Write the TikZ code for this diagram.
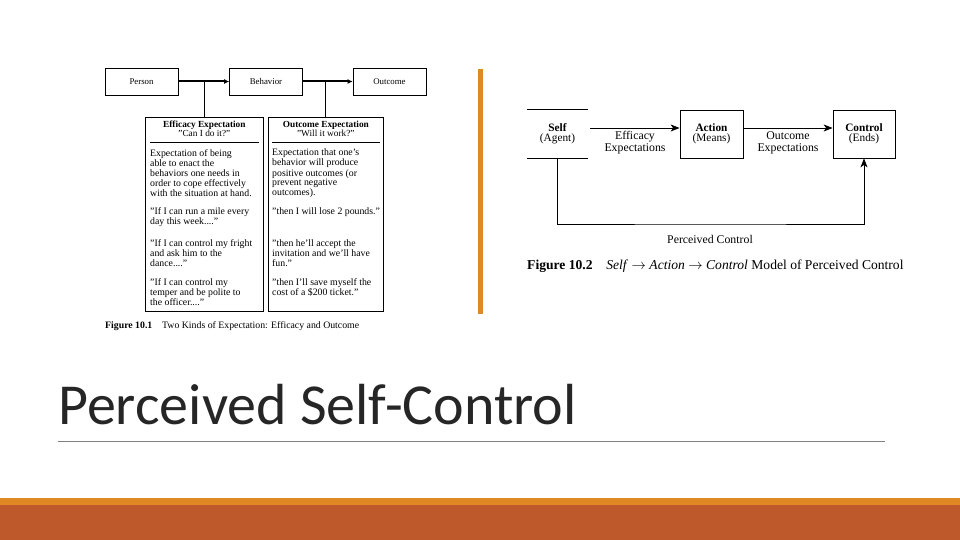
\documentclass[tikz,border=0pt]{standalone}
\usepackage{fontspec}
\setmainfont{Liberation Serif}
\newfontfamily\titlefont{Carlito}
\usetikzlibrary{arrows.meta, positioning}
\definecolor{accent}{RGB}{224,136,36}
\definecolor{banner}{RGB}{190,89,44}

\begin{document}
\begin{tikzpicture}[
  x=1pt, y=-1pt,
  font=\fontsize{9.8}{10}\selectfont,
  blk/.style={rectangle, draw=black, line width=0.7pt, minimum width=73pt,
              minimum height=27pt, inner sep=0pt, font=\fontsize{8.8}{9}\selectfont},
  col/.style={rectangle, draw=black, line width=0.7pt, minimum height=194pt,
              anchor=north west, inner sep=0pt},
  hd/.style={align=center, inner sep=0pt, anchor=north, font=\fontsize{9.3}{8.5}\selectfont},
  txt/.style={align=left, anchor=north west, inner sep=0pt, font=\fontsize{9.8}{10}\selectfont},
  rblk/.style={rectangle, draw=black, line width=0.8pt, minimum width=62pt,
               minimum height=48pt, inner sep=0pt, align=center,
               font=\fontsize{11.3}{10}\selectfont},
  flow/.style={-{Latex[length=5pt, width=5pt]}, line width=2pt},
  fb/.style={-{Stealth[length=9pt, width=7pt, inset=2.5pt]}, line width=0.9pt},
  lbl/.style={align=center, inner sep=0pt, font=\fontsize{11.8}{12}\selectfont}
]
\useasboundingbox (0,0) rectangle (960,540);

% left figure: two kinds of expectation
\node[blk] (person) at (141.5,81.5) {Person};
\node[blk] (behav) at (266,81.5) {Behavior};
\node[blk] (outc) at (389.5,81.5) {Outcome};
\draw[flow] (person) -- (behav);
\draw[flow] (behav) -- (outc);

\node[col, minimum width=118pt] (effbox) at (145,117) {};
\node[col, minimum width=115pt] (resbox) at (268,117) {};
\draw[line width=0.8pt] (effbox.north) -- (effbox.north |- person.east);
\draw[line width=0.8pt] (resbox.north) -- (resbox.north |- behav.east);

\node[hd] (effhd) at ([yshift=-4pt]effbox.north) {\textbf{Efficacy Expectation}\\"Can I do it?"};
\node[hd] (reshd) at ([yshift=-4pt]resbox.north) {\textbf{Outcome Expectation}\\"Will it work?"};
\draw[line width=0.7pt] ([xshift=5pt, yshift=-25pt]effbox.north west) -- ([xshift=-5pt, yshift=-25pt]effbox.north east);
\draw[line width=0.7pt] ([xshift=4pt, yshift=-25pt]resbox.north west) -- ([xshift=-4pt, yshift=-25pt]resbox.north east);

\node[txt] (eff1) at (150,149) {Expectation of being\\able to enact the\\behaviors one needs in\\order to cope effectively\\with the situation at hand.};
\node[txt] (eff2) at (150,207) {"If I can run a mile every\\day this week...."};
\node[txt] (eff3) at (150,239) {"If I can control my fright\\and ask him to the\\dance...."};
\node[txt] (eff4) at (150,278) {"If I can control my\\temper and be polite to\\the officer...."};

\node[txt] (res1) at (272,149) {Expectation that one's\\behavior will produce\\positive outcomes (or\\prevent negative\\outcomes).};
\node[txt] (res2) at (272,207) {"then I will lose 2 pounds."};
\node[txt] (res3) at (272,239) {"then he'll accept the\\invitation and we'll have\\fun."};
\node[txt] (res4) at (272,278) {"then I'll save myself the\\cost of a \$200 ticket."};

\node[anchor=west, inner sep=0pt, font=\fontsize{9.8}{10}\selectfont] (cap1) at (105,326)
  {\textbf{Figure 10.1}\quad Two Kinds of Expectation: Efficacy and Outcome};

% divider
\fill[accent] (478,69) rectangle (482.5,314);

% right figure: self -> action -> control
\node[rblk, draw=none, minimum width=61pt] (self) at (557.5,134) {\textbf{Self}\\(Agent)};
\draw[line width=0.8pt] (self.north west) -- (self.north east);
\draw[line width=0.8pt] (self.south west) -- (self.south east);
\node[rblk, minimum width=63pt] (action) at (711.5,134) {\textbf{Action}\\(Means)};
\node[rblk] (ctrl) at (864,134) {\textbf{Control}\\(Ends)};

\draw[fb] ([xshift=2pt, yshift=6pt]self.east) -- ([yshift=6pt]action.west)
  node[midway, below=3pt, lbl] {Efficacy\\Expectations};
\draw[fb] ([yshift=6pt]action.east) -- ([yshift=6pt]ctrl.west)
  node[midway, below=3pt, lbl] {Outcome\\Expectations};

\coordinate (loop) at (710,224);
\draw[fb] (self.south) |- (loop) -| (ctrl.south);
\node[below=11pt of loop, lbl] (pc) {Perceived Control};

\node[anchor=west, inner sep=0pt, font=\fontsize{13.6}{14}\selectfont] (cap2) at (527,266)
  {\textbf{Figure 10.2}\quad \textit{Self} $\rightarrow$ \textit{Action} $\rightarrow$ \textit{Control} Model of Perceived Control};

% slide title and footer
\node[anchor=base west, inner sep=0pt, text=black!85,
      font=\titlefont\fontsize{58}{62}\selectfont] (title) at (58,424) {Perceived Self-Control};
\draw[black!50, line width=0.8pt] (58,441) -- (885,441);
\fill[accent] (0,498) rectangle (960,505);
\fill[banner] (0,505) rectangle (960,540);
\end{tikzpicture}
\end{document}
